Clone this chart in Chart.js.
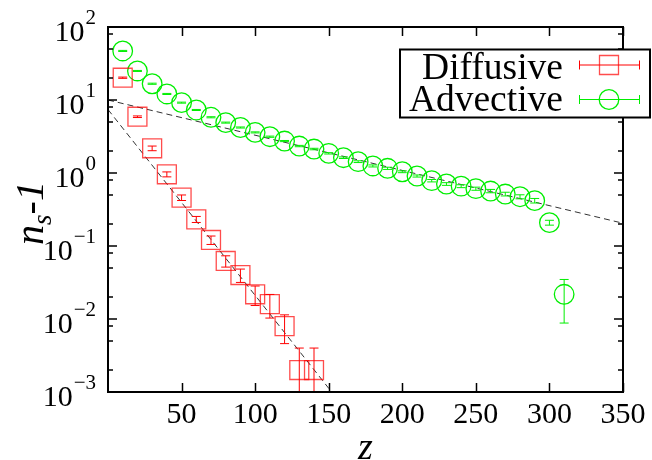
<!doctype html>
<html>
<head>
<meta charset="utf-8">
<title>n_s - 1 vs z</title>
<script src="https://cdn.jsdelivr.net/npm/chart.js"></script>
<style>
  html, body { margin: 0; padding: 0; background: #fff; }
  canvas { display: block; }
</style>
</head>
<body>
<canvas id="chart" width="652" height="460"></canvas>
<script>
// Diffusive series: z, n_s - 1 and error half-width
const zDif   = [10, 20, 30, 40, 50, 60, 70, 80, 90, 100, 110, 120, 130, 140];
const nDif   = [20.2, 5.9, 2.18, 0.96, 0.46, 0.232, 0.121, 0.0624, 0.040, 0.0218, 0.016, 0.0080, 0.0020, 0.0020];
const errDif = [0.4, 0.15, 0.16, 0.075, 0.04, 0.022, 0.016, 0.011, 0.0083, 0.0065, 0.0057, 0.0034, 0.0020, 0.0020];

// Advective series
const zAdv   = [10, 20, 30, 40, 50, 60, 70, 80, 90, 100, 110, 120, 130, 140, 150, 160,
                170, 180, 190, 200, 210, 220, 230, 240, 250, 260, 270, 280, 290, 300, 310];
const nAdv   = [47, 25, 16.7, 12.1, 9.2, 7.3, 5.8, 4.9, 4.2, 3.6, 3.14, 2.74, 2.34, 2.13, 1.86, 1.62,
                1.43, 1.25, 1.16, 1.04, 0.91, 0.785, 0.707, 0.66, 0.61, 0.566, 0.515, 0.473, 0.418, 0.209, 0.0218];
const errAdv = [0.8, 0.4, 0.3, 0.2, 0.15, 0.12, 0.1, 0.08, 0.07, 0.06, 0.06, 0.05, 0.05, 0.05, 0.04, 0.04,
                0.04, 0.04, 0.04, 0.03, 0.03, 0.03, 0.03, 0.03, 0.03, 0.03, 0.03, 0.03, 0.03, 0.016, 0.013];

// exponential fits (end points)
const fitDifZ = [0, 152];
const fitDifN = [7.4, 0.001];
const fitAdvZ = [0, 350];
const fitAdvN = [10, 0.205];

// axes
const xTicks = [50, 100, 150, 200, 250, 300, 350];
const yDecades = [1e-3, 1e-2, 1e-1, 1e0, 1e1, 1e2];
const yMinorFactors = [2, 5, 8];

const seriesNames = ['Diffusive', 'Advective'];

const RED = '#ff0000';
const GREEN = '#00ee00';
const SERIF = '"Liberation Serif", "Times New Roman", serif';

const pts = (xs, ys) => xs.map((x, i) => ({ x: x, y: ys[i] }));

function drawErrorBars(ctx, xs, ys, es, color, sx, sy, area) {
  ctx.save();
  ctx.beginPath();
  ctx.rect(area.left, area.top, area.right - area.left, area.bottom - area.top);
  ctx.clip();
  ctx.strokeStyle = color;
  ctx.lineWidth = 1;
  ctx.beginPath();
  xs.forEach((z, i) => {
    const px = sx.getPixelForValue(z);
    const hi = ys[i] + es[i];
    const lo = ys[i] - es[i];
    const pHi = sy.getPixelForValue(hi);
    const pLo = lo > 0 ? sy.getPixelForValue(lo) : area.bottom + 10;
    ctx.moveTo(px, pHi); ctx.lineTo(px, pLo);
    ctx.moveTo(px - 4.5, pHi); ctx.lineTo(px + 4.5, pHi);
    if (lo > 0) { ctx.moveTo(px - 4.5, pLo); ctx.lineTo(px + 4.5, pLo); }
  });
  ctx.stroke();
  ctx.restore();
}

const gnuStyle = {
  id: 'gnuStyle',
  afterDatasetsDraw(chart) {
    const { ctx, chartArea: a, scales: { x, y } } = chart;
    drawErrorBars(ctx, zDif, nDif, errDif, RED, x, y, a);
    drawErrorBars(ctx, zAdv, nAdv, errAdv, GREEN, x, y, a);
  },
  afterDraw(chart) {
    const { ctx, chartArea: a, scales: { x, y } } = chart;
    ctx.save();
    ctx.strokeStyle = '#000';
    ctx.fillStyle = '#000';

    // inward tick marks on all four sides
    ctx.lineWidth = 1.5;
    ctx.beginPath();
    xTicks.forEach(v => {
      const px = Math.round(x.getPixelForValue(v)) + 0.5;
      ctx.moveTo(px, a.bottom); ctx.lineTo(px, a.bottom - 9);
      ctx.moveTo(px, a.top); ctx.lineTo(px, a.top + 9);
    });
    yDecades.forEach(v => {
      const py = y.getPixelForValue(v);
      ctx.moveTo(a.left, py); ctx.lineTo(a.left + 9, py);
      ctx.moveTo(a.right, py); ctx.lineTo(a.right - 9, py);
      if (v < 100) {
        yMinorFactors.forEach(f => {
          const pm = y.getPixelForValue(v * f);
          ctx.moveTo(a.left, pm); ctx.lineTo(a.left + 5, pm);
          ctx.moveTo(a.right, pm); ctx.lineTo(a.right - 5, pm);
        });
      }
    });
    ctx.stroke();

    // frame
    ctx.lineWidth = 2;
    ctx.strokeRect(a.left, a.top, a.right - a.left, a.bottom - a.top);

    // y tick labels 10^n
    ctx.textAlign = 'right';
    ctx.textBaseline = 'alphabetic';
    yDecades.forEach(v => {
      const py = y.getPixelForValue(v);
      const expText = String(Math.round(Math.log10(v))).replace('-', '\u2212');
      ctx.font = '21px ' + SERIF;
      ctx.fillText(expText, a.left - 12, py - 3);
      const w = ctx.measureText(expText).width;
      ctx.font = '30px ' + SERIF;
      ctx.fillText('10', a.left - 12 - w - 1, py + 13.5);
    });

    // x axis title
    ctx.textAlign = 'center';
    ctx.font = 'italic 38px ' + SERIF;
    ctx.fillText('z', (a.left + a.right) / 2, 459);

    // y axis title n_s - 1
    ctx.save();
    ctx.translate(43, 213);
    ctx.rotate(-Math.PI / 2);
    ctx.textAlign = 'left';
    const big = 'italic 40px ' + SERIF;
    const sub = 'italic 27px ' + SERIF;
    ctx.font = big; const wN = ctx.measureText('n').width;
    ctx.font = sub; const wS = ctx.measureText('s').width;
    ctx.font = big; const wR = ctx.measureText('-1').width;
    let tx = -(wN + wS + wR) / 2;
    ctx.font = big; ctx.fillText('n', tx, 0); tx += wN;
    ctx.font = sub; ctx.fillText('s', tx, 8); tx += wS;
    ctx.font = big; ctx.fillText('-1', tx, 0);
    ctx.restore();

    // legend box
    const bx = 400, by = 49.5, bw = 250, bh = 68;
    ctx.fillStyle = '#fff';
    ctx.fillRect(bx, by, bw, bh);
    ctx.lineWidth = 2;
    ctx.strokeStyle = '#000';
    ctx.strokeRect(bx, by, bw, bh);
    ctx.font = '37.5px ' + SERIF;
    ctx.textAlign = 'right';
    const rows = [
      { label: seriesNames[0], color: RED, base: 78.5, cy: 65 },
      { label: seriesNames[1], color: GREEN, base: 110.5, cy: 99.5 }
    ];
    rows.forEach((r, i) => {
      ctx.fillStyle = '#000';
      ctx.fillText(r.label, 563, r.base);
      ctx.strokeStyle = r.color;
      ctx.lineWidth = 1;
      ctx.beginPath();
      ctx.moveTo(579, r.cy); ctx.lineTo(639, r.cy);
      ctx.moveTo(579.5, r.cy - 4.5); ctx.lineTo(579.5, r.cy + 4.5);
      ctx.moveTo(639.5, r.cy - 4.5); ctx.lineTo(639.5, r.cy + 4.5);
      ctx.stroke();
      ctx.lineWidth = 1.3;
      ctx.beginPath();
      if (i === 0) {
        ctx.strokeStyle = 'rgba(255,0,0,0.7)';
        ctx.rect(599.5, r.cy - 9.5, 19, 19);
      } else {
        ctx.arc(609, r.cy, 9.8, 0, Math.PI * 2);
      }
      ctx.stroke();
    });
    ctx.restore();
  }
};

new Chart(document.getElementById('chart'), {
  type: 'scatter',
  data: {
    datasets: [
      {
        label: seriesNames[0],
        data: pts(zDif, nDif),
        pointStyle: 'rect',
        pointRadius: 13.4,
        pointBorderWidth: 1.3,
        borderColor: 'rgba(255,0,0,0.7)',
        backgroundColor: 'rgba(0,0,0,0)'
      },
      {
        label: seriesNames[1],
        data: pts(zAdv, nAdv),
        pointStyle: 'circle',
        pointRadius: 9.8,
        pointBorderWidth: 1.3,
        borderColor: GREEN,
        backgroundColor: 'rgba(0,0,0,0)'
      },
      {
        label: 'fit diffusive',
        data: pts(fitDifZ, fitDifN),
        showLine: true,
        pointRadius: 0,
        borderColor: '#333',
        borderWidth: 1,
        borderDash: [6, 4]
      },
      {
        label: 'fit advective',
        data: pts(fitAdvZ, fitAdvN),
        showLine: true,
        pointRadius: 0,
        borderColor: '#333',
        borderWidth: 1,
        borderDash: [6, 4]
      }
    ]
  },
  options: {
    responsive: false,
    devicePixelRatio: 1,
    animation: false,
    layout: { padding: { top: 27, right: 29, left: 0, bottom: 0 } },
    plugins: { legend: { display: false }, tooltip: { enabled: false } },
    scales: {
      x: {
        type: 'linear',
        min: 0,
        max: 350,
        grid: { display: false, drawTicks: false },
        border: { display: false },
        ticks: {
          stepSize: 50,
          padding: 5,
          color: '#000',
          maxRotation: 0,
          autoSkip: false,
          font: { family: SERIF, size: 30 },
          callback: v => (v === 0 ? '' : v)
        },
        afterFit: s => { s.height = 68; }
      },
      y: {
        type: 'logarithmic',
        min: 1e-3,
        max: 1e2,
        grid: { display: false, drawTicks: false },
        border: { display: false },
        ticks: { display: false },
        afterFit: s => { s.width = 108; }
      }
    }
  },
  plugins: [gnuStyle]
});
</script>
</body>
</html>
